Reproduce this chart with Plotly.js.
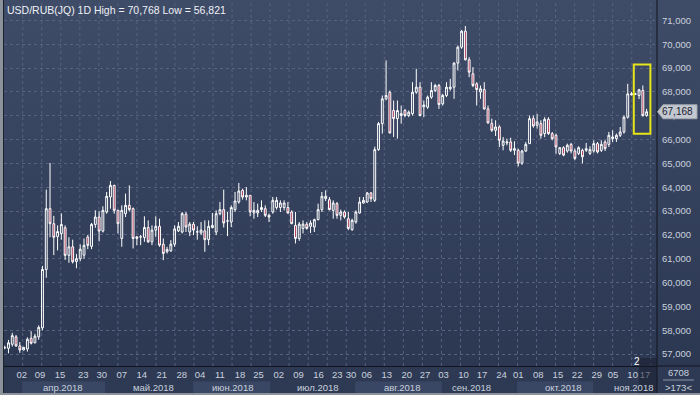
<!DOCTYPE html>
<html><head><meta charset="utf-8">
<script src="https://cdn.plot.ly/plotly-3.0.1.min.js"></script>
<style>
html,body{margin:0;padding:0;background:#2e3a53;}
#wrap{position:relative;width:700px;height:395px;overflow:hidden;
 background:linear-gradient(to bottom,#3f4c68 0px,#2c3852 366px,#2e3a54 366px,#2e3a54 395px);}
#chart{position:absolute;left:0;top:0;width:700px;height:395px;}
#bl{position:absolute;left:0;top:0;width:3px;height:395px;background:#8d939d;}
#bl2{position:absolute;left:3px;top:0;width:1px;height:395px;background:#1a202c;}
#bb{position:absolute;left:0;top:393px;width:700px;height:2px;background:#8d939d;}
</style></head>
<body><div id="wrap"><div id="chart"></div><div id="bl"></div><div id="bl2"></div><div id="bb"></div></div>
<script>
// ---- data (USD/RUB daily candles, values x1000) ----
const openP = [
57260,57240,57410,57720,57340,57170,57210,57660,57470,57720,
58100,60550,63100,62470,61930,62050,62300,61140,61500,60880,
61000,61150,61910,61520,62440,62750,62160,62960,63590,64080,
63030,61850,62890,63240,63100,61850,61910,61890,62310,61710,
62200,62360,61610,61290,61330,61610,62170,62120,62870,62120,
62450,62120,62080,62170,61800,62310,62120,62890,63060,62580,
62540,63060,63380,63870,63590,63660,62920,62920,63060,63100,
62820,62960,63150,63150,63150,63150,62960,62400,61850,62270,
62450,62360,62330,62640,63060,63520,63480,63030,63310,62820,
62960,62680,62220,62540,62920,63340,63380,63760,63450,65580,
66670,67710,67980,67220,66880,67010,67220,67010,67090,67990,
68200,67380,67360,67780,68060,68270,67500,67850,68130,68200,
69210,69880,70550,69350,68760,68340,68000,68100,67290,66670,
66390,66530,65760,65860,65900,65550,65550,65010,65520,65830,
66880,66600,66670,66250,66850,66250,66180,65420,65660,65520,
65800,65520,65420,65550,65550,65420,65520,65830,65550,65900,
65800,66040,66040,66180,66320,66940,67880,67900,67850,68060,
67010];
const highP = [
57350,57590,57890,57800,57500,57300,57700,57960,57850,58200,
60700,63900,65020,62800,62400,62900,62400,61900,61800,61200,
61600,61850,62000,62500,63030,63000,63200,63800,64260,64100,
63050,63240,63730,64080,63150,61950,62000,62780,62610,62400,
62780,62680,61850,61500,61780,62400,62540,62960,62960,62540,
62540,62360,62540,62610,62610,62920,63030,63380,63900,62960,
63240,63800,64180,63940,64010,63660,63380,63310,63450,63240,
62890,63590,63590,63450,63450,63380,63030,62960,62540,62610,
62540,62610,62680,63310,63800,63870,63590,63450,63380,63060,
63030,62960,62680,63030,63590,63590,63800,63800,65700,66740,
67850,69320,68060,67640,67640,67430,67290,67220,68410,68970,
68410,67640,67850,68410,68340,68340,67920,68410,68550,69250,
69950,70600,70768,69460,69040,68410,68270,68410,67430,66880,
66810,66600,66110,66040,66080,65930,65620,65570,65900,67010,
67010,67080,66810,66940,66940,66320,66250,65690,65720,65830,
65860,65620,65720,65620,65860,65720,65970,65900,65970,65970,
66320,66390,66250,66530,67010,68340,68000,67960,68130,68270,
67290];
const lowP = [
57200,57030,57310,57300,57050,57150,57100,57400,57450,57600,
58000,60200,61900,61150,61350,61800,60950,60830,60800,60600,
60900,61000,61400,61400,62300,61730,62100,62890,63100,62890,
62060,61500,62750,62980,61430,61570,61570,61710,61660,61570,
61920,61500,60940,61220,61290,61500,62120,62060,62120,61950,
61990,61800,61990,61290,61570,62270,61990,62820,62310,61950,
62330,62960,63310,63480,63450,62780,62680,62750,62960,62750,
62540,62890,63060,62960,63030,62890,62450,61640,61750,62060,
62220,62080,62120,62610,62960,63420,63030,62680,62680,62610,
62680,62200,62170,62470,62890,63310,63340,63380,63380,65530,
66250,67650,66250,66110,66040,66670,66940,66940,67010,67920,
66970,66940,67290,67710,67990,67290,67430,67780,68060,67710,
68900,69810,69320,68620,68200,67430,67710,67250,66670,66320,
66150,65690,65550,65760,65480,65350,64870,64940,65480,65830,
66500,66460,66040,66100,66200,65970,65410,65350,65300,65450,
65420,65140,65350,65000,65480,65350,65450,65420,65480,65520,
65690,65900,65900,66110,66250,66880,67850,67870,67700,66960,
66960];
const closeP = [
57270,57470,57770,57340,57170,57280,57620,57450,57750,58120,
60550,63100,62470,61900,62140,62440,61140,61500,60870,61000,
61400,61560,61560,62440,62750,62160,63030,63620,64080,63030,
62470,63030,63240,63060,61850,61920,61920,62310,61710,62200,
62360,61570,61220,61390,61610,62250,62360,62890,62330,62450,
62200,62130,62200,61800,62360,62400,62890,63060,62500,62590,
63150,63420,63840,63590,63660,62960,63030,63030,63150,62820,
62750,63450,63450,63340,63340,62920,62470,61850,62450,62450,
62270,62500,62640,63060,63620,63620,63060,63340,62820,62960,
62750,62270,62610,62960,63380,63450,63760,63520,65580,66670,
67710,67850,66280,66880,67220,67090,67010,67150,67990,68200,
67010,67450,67780,68060,68270,67470,67850,68200,68200,69210,
69880,70550,69350,68830,68270,68100,68130,67290,66700,66390,
66530,65970,65940,65900,65550,65620,65010,65520,65800,66880,
66570,66740,66180,66850,66250,66040,65690,65660,65350,65760,
65520,65210,65660,65280,65620,65580,65830,65480,65800,65620,
66180,66110,66180,66320,66940,67920,67920,67920,68090,67010,
67168];
const dayLabels = ["02","09","15","23","30","07","14","21","28","04","11","18","25","02","09","16","23","30","06","13","20","27","03","10","17","24","01","08","15","22","29","05","10","17"];
const monthLabels = ["апр.2018","май.2018","июн.2018","июл.2018","авг.2018","сен.2018","окт.2018","ноя.2018"];
const yTickVals = [57000,58000,59000,60000,61000,62000,63000,64000,65000,66000,67000,68000,69000,70000,71000];
const lastPrice = 67168;
const titleText = "USD/RUB(JQ) 1D High = 70,768 Low = 56,821";
const counterTop = "6708", counterBottom = ">173<";

// ---- layout helpers (positions in candle-index units) ----
const dayLabelAt = [4.5,9.35,14.65,20.8,25.7,31.0,36.3,41.6,46.9,51.7,57.0,62.3,67.2,72.6,77.8,83.1,88.1,91.7,95.9,101.2,106.5,111.3,116.2,121.5,126.4,131.6,136.0,141.3,146.5,151.6,156.8,161.1,166.3,169.6];
const monthLabelAt = [15.4,39.3,60.2,83.0,105.1,123.7,148.0,166.5];
const monthBands = [[4.58,26.6],[49.9,70.3],[92.8,115.8],[135.7,155.8]];
const highlight = {x0:166.6, x1:171.0, y0:66240, y1:69150};
const XR = [-0.19, 172.75], YR = [56497, 71859];
const idx = openP.map((_, i) => i);

const gridCol = '#56627e';
const txtCol = '#c9d1de';
const fnt = 'Liberation Sans, Arial, sans-serif';
const PW = 653, PH = 366; // plot area px
const px = p => (p - 4) / PW;       // page x px -> paper
const py = p => (PH - p) / PH;      // page y px -> paper

const shapes = [];
// vertical dashed grid
for (let k = 0; k <= 33; k++) {
  const gx = 4.77 + 5.04 * k;
  shapes.push({type:'line', xref:'x', yref:'paper', x0:gx, x1:gx, y0:0, y1:1, layer:'below',
    line:{color:gridCol, width:1, dash:'3px,3px'}});
}
// month bands
monthBands.forEach(b => shapes.push({type:'rect', xref:'x', yref:'paper', x0:b[0], x1:b[1], y0:py(393), y1:py(381.5),
  fillcolor:'#3a4764', line:{width:0}, layer:'below'}));
// highlight box
shapes.push({type:'rect', xref:'x', yref:'y', x0:highlight.x0, x1:highlight.x1, y0:highlight.y0, y1:highlight.y1,
  line:{color:'#e6e619', width:2}, fillcolor:'rgba(0,0,0,0)'});
// right panel separators
shapes.push({type:'line', xref:'paper', yref:'paper', x0:1, x1:1, y0:py(395), y1:1, line:{color:'#10141c', width:1}});
shapes.push({type:'line', xref:'paper', yref:'paper', x0:1, x1:px(700), y0:0, y1:0, line:{color:'#10141c', width:1}});
shapes.push({type:'line', xref:'paper', yref:'paper', x0:px(663), x1:px(694), y0:py(380), y1:py(380), line:{color:'#8a93a5', width:1}});
// scroll overlay near right end of time axis
shapes.push({type:'rect', xref:'paper', yref:'paper', x0:px(639), x1:1, y0:py(393), y1:py(358),
  fillcolor:'rgba(22,28,42,0.5)', line:{width:0}});
// last price marker
const hh = 7 * (YR[1]-YR[0]) / PH;
shapes.push({type:'path', xref:'paper', yref:'y',
  path:`M ${px(657.5)},${lastPrice} L ${px(663)},${lastPrice+hh} L ${px(697)},${lastPrice+hh} L ${px(697)},${lastPrice-hh} L ${px(663)},${lastPrice-hh} Z`,
  fillcolor:'#c3c7cf', line:{color:'#9ea4ae', width:1}});

const annotations = [];
monthLabels.forEach((m, i) => annotations.push({xref:'x', yref:'paper', x:monthLabelAt[i], y:py(387.5), text:m,
  showarrow:false, xanchor:'center', yanchor:'middle', font:{family:fnt, size:9.5, color:txtCol}}));
annotations.push({xref:'paper', yref:'paper', x:px(5), y:1, xanchor:'left', yanchor:'top', yshift:-2, text:titleText,
  showarrow:false, font:{family:fnt, size:10.5, color:'#eef1f6'}});
annotations.push({xref:'paper', yref:'y', x:px(677), y:lastPrice, xanchor:'center', yanchor:'middle',
  text:lastPrice.toLocaleString('en-US'), showarrow:false,
  font:{family:fnt, size:10, color:'#1a2030'}});
annotations.push({xref:'paper', yref:'paper', x:px(636.5), y:py(361), xanchor:'center', yanchor:'middle', text:'2', showarrow:false,
  font:{family:fnt, size:10, color:'#ffffff'}});
annotations.push({xref:'paper', yref:'paper', x:px(678), y:py(373), xanchor:'center', yanchor:'middle', text:counterTop, showarrow:false,
  font:{family:fnt, size:9.5, color:txtCol}});
annotations.push({xref:'paper', yref:'paper', x:px(678), y:py(387.5), xanchor:'center', yanchor:'middle', text:counterBottom, showarrow:false,
  font:{family:fnt, size:9.5, color:txtCol}});

const trace = {
  type:'candlestick', x:idx, open:openP, high:highP, low:lowP, close:closeP,
  increasing:{line:{color:'#ffffff', width:1}, fillcolor:'rgba(0,0,0,0)'},
  decreasing:{line:{color:'#ffffff', width:1}, fillcolor:'#a8284a'},
  whiskerwidth:0, hoverinfo:'skip', showlegend:false
};

const layout = {
  width:700, height:395,
  margin:{l:4, r:43, t:0, b:29, pad:0},
  paper_bgcolor:'rgba(0,0,0,0)', plot_bgcolor:'rgba(0,0,0,0)',
  showlegend:false,
  xaxis:{range:XR, tickmode:'array', tickvals:dayLabelAt, ticktext:dayLabels, tickangle:0,
    showgrid:false, zeroline:false, showline:true, linecolor:'#10141c', linewidth:1, ticks:'',
    tickfont:{family:fnt, size:9.5, color:txtCol}, rangeslider:{visible:false}, fixedrange:true},
  yaxis:{side:'right', range:YR, tickmode:'array', tickvals:yTickVals, tickformat:',d',
    showgrid:true, gridcolor:gridCol, griddash:'3px,3px', gridwidth:1, zeroline:false,
    showline:false, ticks:'', ticklabelstandoff:4,
    tickfont:{family:fnt, size:9.5, color:txtCol}, fixedrange:true},
  shapes:shapes, annotations:annotations
};
Plotly.newPlot('chart', [trace], layout, {staticPlot:true, displayModeBar:false});
</script></body></html>
